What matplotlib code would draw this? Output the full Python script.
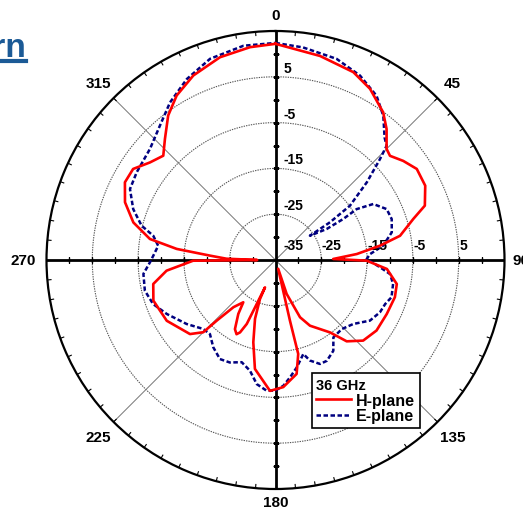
import numpy as np
import matplotlib
matplotlib.use('Agg')
import matplotlib.pyplot as plt
from matplotlib.lines import Line2D

plt.rcParams['font.family'] = ['Liberation Sans', 'DejaVu Sans']

# H-plane pattern (deg, dB) in drawing order
h_ang = [0, 12.3, 22.5, 28.9, 36.1, 40.3, 45, 47.7, 52.2, 57.2, 63.6, 70, 73.4, 79, 82.2, 85.8, 89,
         90.4, 94.6, 101.2, 107.3, 115.9, 124.9, 132.6, 138.8, 143, 152.3, 156.8, 161.8, 163,
         166.6, 166.4, 169.5, 176.5, 182.4, 190.7, 195.1, 199.2, 201.7, 201, 203.1, 204.2, 206.1,
         207.7, 210.4, 214.6, 217.3, 221.7, 224.1, 225, 229.1, 240.8, 251.6, 258.9, 264.4, 269.5,
         270, 271.5, 273.8, 276.4, 279.5, 284.8, 291, 297.3, 302.6, 307.9, 312.9, 317.6, 323.4,
         329, 336, 344.7, 353.2, 360]
h_db = [12.2, 10.6, 9.4, 7.7, 4.9, 2.5, -0.7, -1.2, 0.3, 1.7, 1.5, -0.3, -3.6, -7.3, -12, -17.2, -22.4,
        -15.1, -10.6, -8.0, -7.7, -8.0, -8.1, -9.0, -11.4, -15.2, -18.8, -21.4, -27.2, -33,
        -21.4, -13.9, -9.7, -7.2, -6.4, -10.8, -16.4, -21.4, -25.8, -28.6, -24.6, -19.7, -17.4,
        -16.7, -17.5, -20.7, -23.4, -21.2, -16.6, -12.7, -10.3, -7.8, -6.9, -7.8, -11.1, -17,
        -31, -24.3, -20.7, -13.3, -7.2, -2.9, 0.2, 2.0, 1.9, -0.3, -1.55, 0.8, 4.3,
        6.9, 9.1, 10.9, 11.8, 12.2]

# E-plane pattern (deg, dB)
e_ang = [0, 7.4, 16.9, 24.6, 31.6, 36.8, 41.7, 44.2, 46, 49.6, 53.9, 55.3, 54.8, 58.8, 58.8, 57.9,
         60.2, 65.4, 70.6, 76.6, 82.4, 86.4, 89.4, 94, 97, 101.5, 107.8, 111.9, 116.6, 122.7,
         129.4, 136.2, 143.2, 147.5, 153, 156.8, 161.1, 163.5, 168.8, 172.9, 176.4, 180, 183.9,
         188.6, 193, 198.3, 204, 209.3, 215.5, 221.5, 226.3, 234.2, 243.6, 250.2, 256.8, 264,
         269, 272, 276.9, 281.2, 284.4, 289.7, 296, 302.3, 311.5, 319.3, 326.2, 333.9, 342,
         351.5, 360]
e_db = [12.4, 11.8, 10.9, 9.3, 7.1, 4.3, 0.8, -0.2, -3.3, -8.8, -14.9, -20.5, -25.8, -21.9, -17.7, -14.1,
        -10.4, -8.3, -8.1, -8.9, -11.3, -14.3, -15.1, -12.1, -9.8, -8.8, -8.4, -9.2, -9.5, -10.5,
        -13.0, -14.1, -13.9, -11.5, -10.3, -10.3, -11.8, -13.6, -11.1, -9.2, -7.5, -6.5, -6.4,
        -7.6, -10.2, -11.5, -10.5, -10.2, -11.6, -13.4, -13.2, -11.1, -8.5, -6.6, -5.7, -6.0,
        -7.6, -8.3, -9.2, -7.8, -4.8, -2.0, 0.35, 0.85, 1.6, 3.7, 6.4, 9.0, 11.2,
        12.3, 12.4]

r_min, r_max = -35, 15
rings = [-25, -15, -5, 5]
ring_labels = ['-35', '-25', '-15', '-5', '5']
angle_ticks = [0, 45, 90, 135, 180, 225, 270, 315]

fig = plt.figure(figsize=(5.23, 5.10), dpi=100)
ax = fig.add_axes([46.5 / 523, 20 / 510, 458 / 523, 458 / 510], projection='polar')
ax.set_theta_zero_location('N')
ax.set_theta_direction(-1)
ax.set_ylim(r_min, r_max)
ax.set_xticks([])
ax.set_yticks([])
ax.grid(False)
ax.spines['polar'].set_linewidth(1.6)

full = np.linspace(0, 2 * np.pi, 400)
for r in rings:
    ax.plot(full, np.full_like(full, r), color='#555555', lw=0.8, ls=(0, (1.2, 1.0)), zorder=1)

# diagonal spokes
for a in [45, 135, 225, 315]:
    ax.plot([np.deg2rad(a)] * 2, [r_min, r_max], color='#777777', lw=0.7, zorder=1)

# outer circle ticks every 5 deg
for a in range(0, 360, 5):
    ax.plot([np.deg2rad(a)] * 2, [r_max - 0.8, r_max], color='black', lw=0.8, zorder=2)

# main cross with tick marks
steps = np.arange(-30, 15, 5)
for a in [0, 180]:
    ax.plot([np.deg2rad(a)] * 2, [r_min, r_max], color='black', lw=2, zorder=2)
    ax.plot(np.full(len(steps), np.deg2rad(a)), steps, ls='none', marker='_', ms=5,
            mew=1, color='black', zorder=2)
for a in [90, 270]:
    ax.plot([np.deg2rad(a)] * 2, [r_min, r_max], color='black', lw=2, zorder=2)
    ax.plot(np.full(len(steps), np.deg2rad(a)), steps, ls='none', marker='|', ms=5,
            mew=1, color='black', zorder=2)

# patterns
l_h, = ax.plot(np.deg2rad(h_ang), h_db, color='#FF0000', lw=1.9, zorder=4, label='H-plane')
l_e, = ax.plot(np.deg2rad(e_ang), e_db, color='#000080', lw=1.8, ls=(0, (1.8, 1.0)),
               zorder=3, label='E-plane')

# angle labels
lab_r = {0: 18.4, 180: 17.8, 90: 18.6, 270: 20.1}
for a in angle_ticks:
    ax.text(np.deg2rad(a), lab_r.get(a, 19.6), str(a), ha='center', va='center',
            fontsize=11, fontweight='bold', clip_on=False)

# ring labels along the two axes
for lbl in ring_labels:
    v = float(lbl)
    if v > r_min:
        ax.annotate(lbl, xy=(0, v), xytext=(5.5, 1.5), textcoords='offset points',
                    ha='left', va='bottom', fontsize=10, fontweight='bold')
        ax.annotate(lbl, xy=(np.pi / 2, v), xytext=(0.5, 6), textcoords='offset points',
                    ha='left', va='bottom', fontsize=10, fontweight='bold')
    else:
        ax.annotate(lbl, xy=(0, v), xytext=(5.5, 6), textcoords='offset points',
                    ha='left', va='bottom', fontsize=10, fontweight='bold')

leg = fig.legend(handles=[l_h, l_e], loc='upper left',
                 bbox_to_anchor=(311.5 / 523, 1 - 374 / 510), title='36 GHz',
                 alignment='left', frameon=True, fancybox=False, edgecolor='black',
                 framealpha=1, prop={'weight': 'bold', 'size': 11.5},
                 title_fontproperties={'weight': 'bold', 'size': 10.5},
                 handlelength=2.2, borderpad=0.3, labelspacing=0.05, handletextpad=0.3,
                 borderaxespad=0)
leg.get_frame().set_linewidth(1.2)

# slide title, mostly cut off at the left edge
fig.text(26 / 523, 1 - 57 / 510, 'Radiation Pattern', ha='right', va='baseline',
         fontsize=24, fontweight='bold', color='#1B5A96')
fig.add_artist(Line2D([0, 26 / 523], [1 - 62 / 510] * 2, color='#1B5A96', lw=3))

fig.savefig('out.png', dpi=100)
